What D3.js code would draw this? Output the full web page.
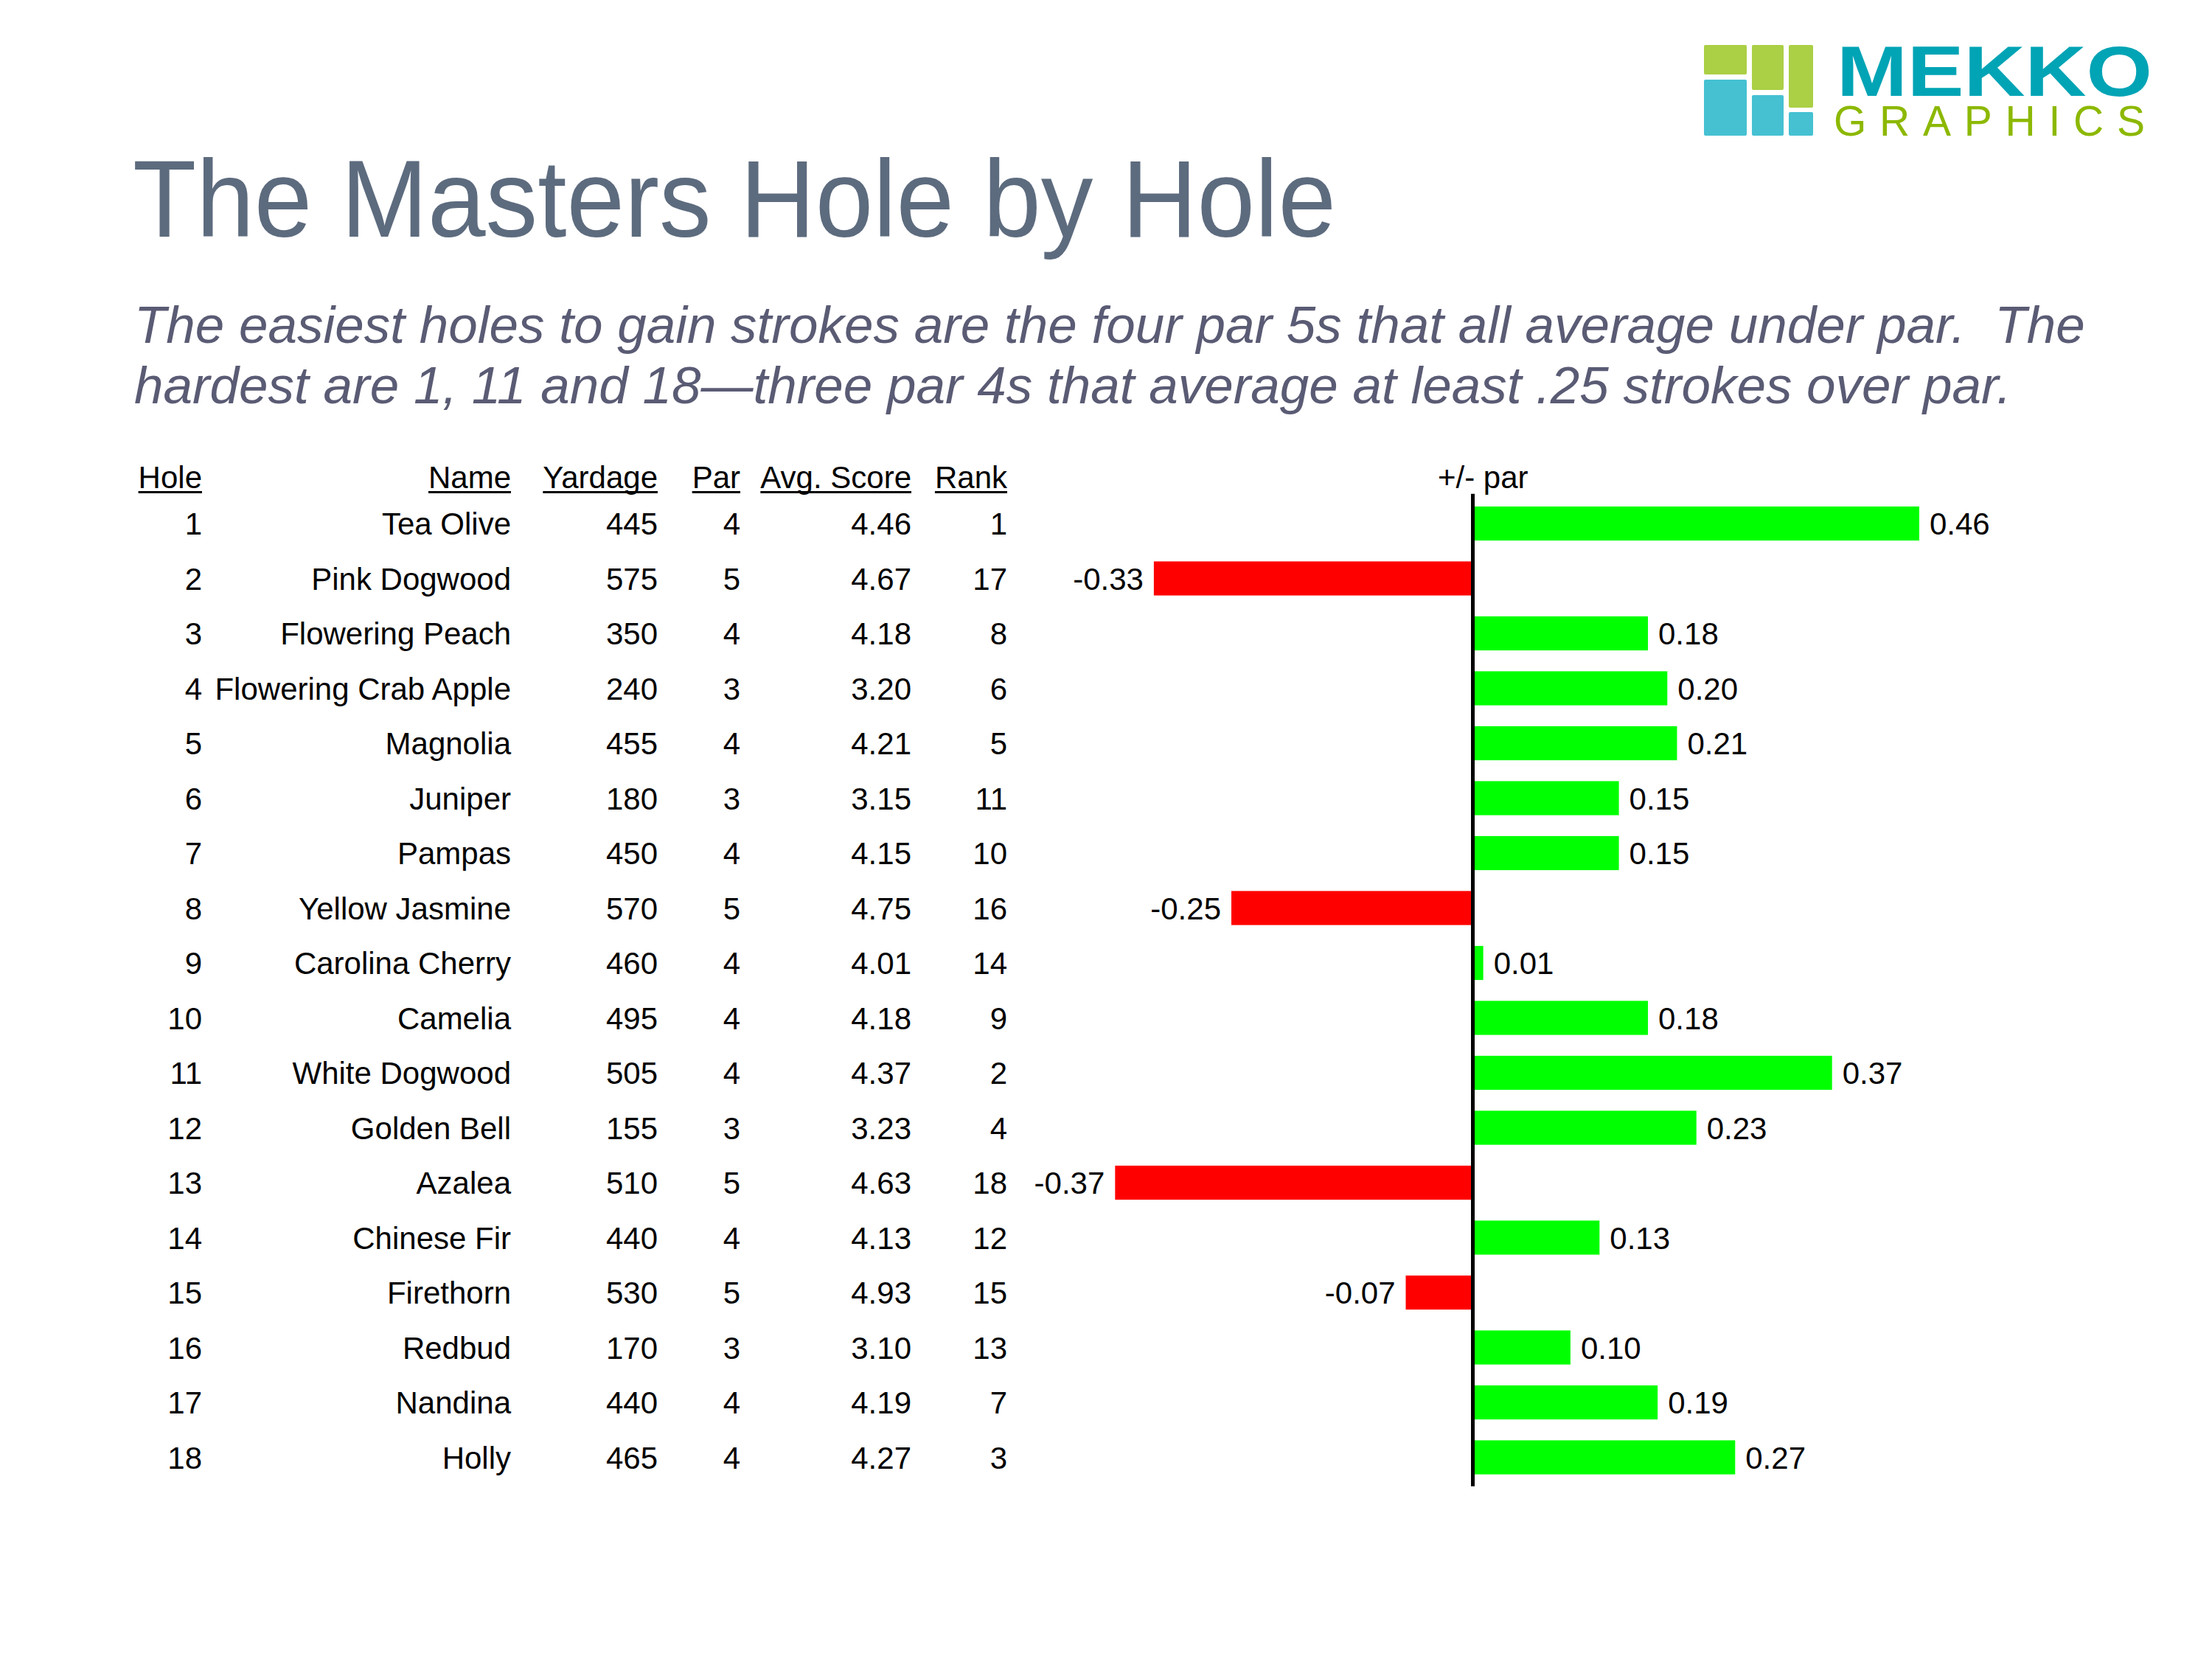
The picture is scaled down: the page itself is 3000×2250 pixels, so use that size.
<!DOCTYPE html>
<html>
<head>
<meta charset="utf-8">
<script src="https://cdn.jsdelivr.net/npm/d3@7/dist/d3.min.js"></script>
<style>
  html, body { margin: 0; padding: 0; background: #ffffff; }
  svg { display: block; }
  text { font-family: "Liberation Sans", Arial, sans-serif; }
</style>
</head>
<body>
<script>
// ---------------- data ----------------
const holes = [1, 2, 3, 4, 5, 6, 7, 8, 9, 10, 11, 12, 13, 14, 15, 16, 17, 18];
const names = ["Tea Olive", "Pink Dogwood", "Flowering Peach", "Flowering Crab Apple", "Magnolia", "Juniper",
  "Pampas", "Yellow Jasmine", "Carolina Cherry", "Camelia", "White Dogwood", "Golden Bell",
  "Azalea", "Chinese Fir", "Firethorn", "Redbud", "Nandina", "Holly"];
const yardage = [445, 575, 350, 240, 455, 180, 450, 570, 460, 495, 505, 155, 510, 440, 530, 170, 440, 465];
const pars = [4, 5, 4, 3, 4, 3, 4, 5, 4, 4, 4, 3, 5, 4, 5, 3, 4, 4];
const avgScore = [4.46, 4.67, 4.18, 3.20, 4.21, 3.15, 4.15, 4.75, 4.01, 4.18, 4.37, 3.23, 4.63, 4.13, 4.93, 3.10, 4.19, 4.27];
const ranks = [1, 17, 8, 6, 5, 11, 10, 16, 14, 9, 2, 4, 18, 12, 15, 13, 7, 3];
const plusMinus = [0.46, -0.33, 0.18, 0.20, 0.21, 0.15, 0.15, -0.25, 0.01, 0.18, 0.37, 0.23, -0.37, 0.13, -0.07, 0.10, 0.19, 0.27];
const columnHeaders = ["Hole", "Name", "Yardage", "Par", "Avg. Score", "Rank"];
const barHeader = "+/- par";

const titleText = "The Masters Hole by Hole";
const subtitleLines = [
  "The easiest holes to gain strokes are the four par 5s that all average under par.  The",
  "hardest are 1, 11 and 18\u2014three par 4s that average at least .25 strokes over par."
];

// ---------------- layout ----------------
const W = 3000, H = 2250;
const svg = d3.select("body").append("svg").attr("width", W).attr("height", H);
svg.append("rect").attr("width", W).attr("height", H).attr("fill", "#ffffff");

const fmt = d3.formatLocale({decimal: ".", thousands: ",", grouping: [3], currency: ["$", ""], minus: "-"}).format(".2f");

// Logo
const logo = svg.append("g").attr("class", "logo");
const logoBlocks = [
  {x: 2311, y: 61, w: 58, h: 40, c: "#abcf45"},
  {x: 2311, y: 108, w: 58, h: 76, c: "#45c1d2"},
  {x: 2376, y: 61, w: 43, h: 61, c: "#abcf45"},
  {x: 2376, y: 129, w: 43, h: 55, c: "#45c1d2"},
  {x: 2426, y: 61, w: 33, h: 85, c: "#abcf45"},
  {x: 2426, y: 152, w: 33, h: 32, c: "#45c1d2"}
];
logo.selectAll("rect").data(logoBlocks).join("rect")
  .attr("x", d => d.x).attr("y", d => d.y).attr("width", d => d.w).attr("height", d => d.h)
  .attr("rx", 2).attr("fill", d => d.c);
logo.append("text").attr("x", 2491).attr("y", 130)
  .attr("font-size", 96).attr("font-weight", "bold").attr("fill", "#00a4b5")
  .attr("textLength", 428).attr("lengthAdjust", "spacingAndGlyphs").text("MEKKO");
logo.append("text").attr("x", 2487).attr("y", 184)
  .attr("font-size", 57).attr("fill", "#8cb800")
  .attr("textLength", 422).attr("lengthAdjust", "spacing").text("GRAPHICS");

// Title
svg.append("text").attr("x", 180).attr("y", 321)
  .attr("font-size", 148).attr("fill", "#5d6b7e")
  .attr("textLength", 1632).attr("lengthAdjust", "spacingAndGlyphs")
  .text(titleText);

// Subtitle
svg.append("g").selectAll("text").data(subtitleLines).join("text")
  .attr("x", 182).attr("y", (d, i) => 465 + i * 82)
  .attr("font-size", 71).attr("font-style", "italic").attr("fill", "#5a5b74")
  .style("white-space", "pre")
  .text(d => d);

// Row scale
const y = d3.scaleBand().domain(holes).range([672.75, 2013.75]).paddingInner(0.38).paddingOuter(0.19);
const rowMid = d => y(d) + y.bandwidth() / 2;

// Table columns
const colRight = [274, 693, 892, 1004, 1236, 1366];
const colData = [holes, names, yardage, pars, avgScore.map(v => v.toFixed(2)), ranks];
const FS = 42;
const headerBaseline = 662;

const table = svg.append("g");
columnHeaders.forEach((h, ci) => {
  const t = table.append("text").attr("x", colRight[ci]).attr("y", headerBaseline)
    .attr("text-anchor", "end").attr("font-size", FS).attr("fill", "#000").text(h);
  const len = t.node().getComputedTextLength();
  table.append("rect").attr("x", colRight[ci] - len).attr("y", headerBaseline + 4)
    .attr("width", len).attr("height", 3).attr("fill", "#000");
  table.append("g").selectAll("text").data(holes).join("text")
    .attr("x", colRight[ci]).attr("y", d => rowMid(d)).attr("dy", "0.36em")
    .attr("text-anchor", "end").attr("font-size", FS).attr("fill", "#000")
    .text((d, i) => colData[ci][i]);
});

// Bars
const zeroX = 1998.5;
const x = d3.scaleLinear().domain([0, 1]).range([zeroX, zeroX + 1314]);
const bars = svg.append("g");
bars.selectAll("rect").data(holes).join("rect")
  .attr("x", (d, i) => Math.min(x(0), x(plusMinus[i])))
  .attr("y", d => y(d))
  .attr("width", (d, i) => Math.abs(x(plusMinus[i]) - x(0)))
  .attr("height", y.bandwidth())
  .attr("fill", (d, i) => plusMinus[i] >= 0 ? "#00ff00" : "#ff0000");

bars.append("g").selectAll("text").data(holes).join("text")
  .attr("x", (d, i) => plusMinus[i] >= 0 ? x(plusMinus[i]) + 14 : x(plusMinus[i]) - 14)
  .attr("y", d => rowMid(d)).attr("dy", "0.36em")
  .attr("text-anchor", (d, i) => plusMinus[i] >= 0 ? "start" : "end")
  .attr("font-size", FS).attr("fill", "#000")
  .text((d, i) => fmt(plusMinus[i]));

// Zero axis line
const yr = y.range();
svg.append("line").attr("x1", x(0) - 1).attr("x2", x(0) - 1).attr("y1", yr[0] - 3).attr("y2", yr[1] + 2)
  .attr("stroke", "#000").attr("stroke-width", 5);

svg.append("text").attr("x", 1950).attr("y", headerBaseline)
  .attr("font-size", FS).attr("fill", "#000").text(barHeader);
</script>
</body>
</html>
